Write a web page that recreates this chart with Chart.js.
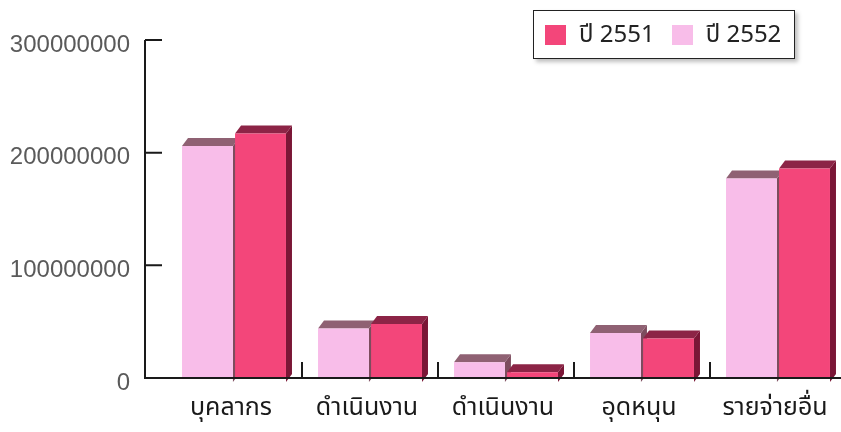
<!DOCTYPE html>
<html>
<head>
<meta charset="utf-8">
<script src="https://cdn.jsdelivr.net/npm/chart.js@4"></script>
<style>
    body { margin: 0; background: #fff; overflow: hidden; }
    #wrap { position: relative; width: 850px; height: 432px; }
    #legend {
        position: absolute; left: 533px; top: 10px; width: 260px; height: 47px;
        border: 1.5px solid #222; background: #fff; box-shadow: 3px 3px 4px rgba(0,0,0,0.25);
        font-family: 'Noto Sans Thai', 'Noto Sans', 'DejaVu Sans', sans-serif; font-size: 24px; color: #222;
        display: flex; align-items: center;
    }
    #legend .item { display: flex; align-items: center; margin-left: 11px; margin-right: 6px; }
    #legend .box { width: 21px; height: 20px; margin-right: 13px; }
</style>
</head>
<body>
<div id="wrap">
    <canvas id="barChart"></canvas>
    <div id="legend"></div>
</div>
<script>
// category labels and values
const categories = ["บุคลากร", "ดำเนินงาน", "ดำเนินงาน", "อุดหนุน", "รายจ่ายอื่น"];
const values2552 = [206000000, 44000000, 14000000, 40000000, 177000000];
const values2551 = [217000000, 48000000, 5000000, 35000000, 186000000];
const seriesLabels = ["ปี 2552", "ปี 2551"];
const yTicks = [0, 100000000, 200000000, 300000000];

const lightPink = "#f8bde9";
const darkPink = "#f3467a";

// 3d look: draw top and side faces behind each bar
const depthPlugin = {
    id: "depth",
    beforeDatasetsDraw(chart) {
        const ctx = chart.ctx;
        const dx = 6, dy = 8;
        const faces = [["#7d4c5e", "#8f6173"], ["#7a1636", "#8c2446"]];
        chart.data.datasets.forEach((ds, di) => {
            chart.getDatasetMeta(di).data.forEach(bar => {
                const l = bar.x - bar.width / 2, r = bar.x + bar.width / 2;
                const t = bar.y, b = bar.base;
                ctx.save();
                // side
                ctx.fillStyle = faces[di][0];
                ctx.beginPath();
                ctx.moveTo(r, t); ctx.lineTo(r + dx, t - dy); ctx.lineTo(r + dx, b - dy + 4); ctx.lineTo(r, b + 4);
                ctx.closePath(); ctx.fill();
                // top
                ctx.fillStyle = faces[di][1];
                ctx.beginPath();
                ctx.moveTo(l, t); ctx.lineTo(l + dx, t - dy); ctx.lineTo(r + dx, t - dy); ctx.lineTo(r, t);
                ctx.closePath(); ctx.fill();
                ctx.restore();
            });
        });
    },
    afterDraw(chart) {
        // axis lines and tick marks
        const ctx = chart.ctx;
        const x = chart.scales.x, y = chart.scales.y;
        const axisX = chart.chartArea.left - 21;
        const zero = y.getPixelForValue(0);
        ctx.save();
        ctx.strokeStyle = "#1a1a1a";
        ctx.lineWidth = 2;
        ctx.beginPath();
        ctx.moveTo(axisX, y.getPixelForValue(yTicks[yTicks.length - 1]));
        ctx.lineTo(axisX, zero);
        ctx.lineTo(chart.width, zero);
        yTicks.forEach(v => {
            const py = y.getPixelForValue(v);
            ctx.moveTo(axisX, py); ctx.lineTo(axisX + 17, py);
        });
        for (let i = 1; i < categories.length; i++) {
            const px = (x.getPixelForValue(i - 1) + x.getPixelForValue(i)) / 2;
            ctx.moveTo(px, zero); ctx.lineTo(px, zero - 16);
        }
        ctx.stroke();
        ctx.restore();
    }
};

const ctx = document.getElementById("barChart");

const chart = new Chart(ctx, {
    type: "bar",
    data: {
        labels: categories,
        datasets: [{
            label: seriesLabels[0],
            data: values2552,
            backgroundColor: lightPink
        }, {
            label: seriesLabels[1],
            data: values2551,
            backgroundColor: darkPink
        }]
    },
    options: {
        responsive: true,
        maintainAspectRatio: false,
        animation: false,
        layout: { padding: { top: 40, right: 4, left: 0, bottom: 0 } },
        categoryPercentage: 0.78,
        barPercentage: 0.96,
        plugins: {
            legend: { display: false },
            tooltip: { enabled: false }
        },
        scales: {
            x: {
                grid: { display: false },
                border: { display: false },
                afterFit: s => { s.height = 54; s.paddingLeft = 0; s.paddingRight = 0; },
                ticks: {
                    padding: 9,
                    labelOffset: -3,
                    color: "#1a1a1a",
                    font: { family: "'Noto Sans Thai', 'Noto Sans', 'DejaVu Sans', sans-serif", size: 25 }
                }
            },
            y: {
                min: 0,
                max: 300000000,
                grid: { display: false, drawTicks: false },
                border: { display: false },
                afterFit: s => { s.width = 166; s.paddingTop = 0; s.paddingBottom = 0; },
                afterBuildTicks: s => { s.ticks = yTicks.map(v => ({ value: v })); },
                ticks: {
                    padding: 36,
                    labelOffset: 5,
                    color: "#5a5a5a",
                    font: { family: "'Liberation Sans', Arial, sans-serif", size: 24 },
                    callback: v => String(v)
                }
            }
        }
    },
    plugins: [depthPlugin]
});

// legend box, 2551 first like the original
const legendEl = document.getElementById("legend");
chart.data.datasets.slice().reverse().forEach(ds => {
    const item = document.createElement("div");
    item.className = "item";
    const box = document.createElement("span");
    box.className = "box";
    box.style.background = ds.backgroundColor;
    const txt = document.createElement("span");
    txt.innerText = ds.label;
    item.appendChild(box);
    item.appendChild(txt);
    legendEl.appendChild(item);
});
</script>
</body>
</html>
